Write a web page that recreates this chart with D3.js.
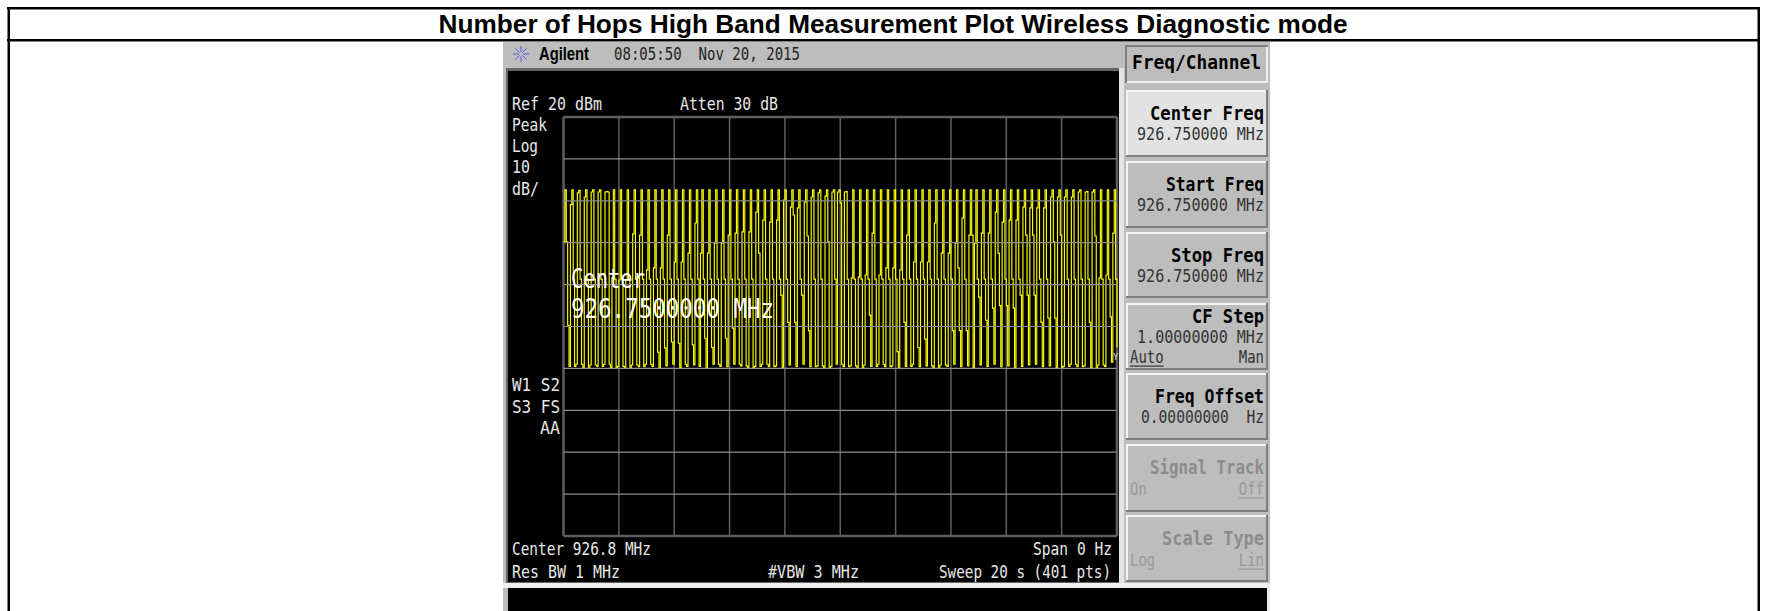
<!DOCTYPE html>
<html><head><meta charset="utf-8">
<script src="https://cdnjs.cloudflare.com/ajax/libs/d3/7.8.5/d3.min.js"></script>
<style>html,body{margin:0;padding:0;background:#fff;overflow:hidden}svg{display:block}</style>
</head><body><svg id="c" width="1766" height="611"></svg>
<script>
const title = "Number of Hops High Band Measurement Plot Wireless Diagnostic mode";
const refLevel = 20, dbPerDiv = 10, yDivs = 10, xDivs = 10, sweepPts = 400;
// Trace in dBm, one source row per hop: trough, rising edge, peak, shoulder, second trough
const trace = [
-9.8,2.6,-9.8,-29.7,
-39.5,-0.9,2.6,-18.7,-39.5,
-39.0,1.9,2.5,-18.7,-39.0,
-39.8,0.9,2.6,-18.7,-39.8,
-39.2,2.1,2.6,-18.7,-39.2,
-39.5,2.1,2.6,-18.7,-39.5,
-39.0,2.1,2.2,2.1,-39.0,
-39.8,-18.4,2.6,-18.7,-39.8,
-39.5,-18.9,2.6,-18.7,-39.5,
-40.0,-18.9,2.6,-18.7,-40.0,
-39.2,-7.9,2.6,-18.7,-39.2,
-39.6,-8.2,2.6,-18.7,-39.6,
-39.0,-16.5,2.6,-18.7,-39.0,
-39.5,-16.0,2.6,-18.7,-36.1,
-39.8,-16.0,2.6,-18.7,-35.1,
-39.4,-8.2,2.6,-18.7,-33.7,
-39.0,-14.6,2.6,-18.7,-34.0,
-39.8,-14.6,2.6,-18.7,-39.0,
-39.5,-12.5,2.6,-18.7,-34.4,
-39.2,-5.3,2.6,-18.7,
-39.5,-12.5,2.6,-18.7,-32.8,
-39.8,-12.5,2.6,-18.7,-35.0,
-39.0,-10.1,2.6,-18.7,-39.0,
-39.5,-10.1,2.6,-18.7,-32.8,
-39.6,-8.2,2.6,-18.7,-30.4,
-39.0,-7.7,2.6,-18.7,-39.0,
-39.4,-7.4,2.6,-18.7,-39.4,
-39.8,-7.4,2.6,-18.7,-39.8,
-39.5,-2.7,2.6,-12.5,-39.5,
-39.0,-4.6,2.6,-18.7,-39.0,
-39.6,-5.1,2.6,-18.7,-39.6,
-39.4,-4.6,2.6,-18.7,-22.5,
-39.8,0.2,2.6,-18.7,-29.0,
-39.2,-1.5,2.6,-3.4,-29.0,
-39.5,-1.7,2.6,-18.7,-22.5,
-39.0,-0.3,2.6,-8.4,-31.0,
-39.6,0.9,2.6,-18.7,-39.6,
-39.4,1.9,2.6,-18.7,-39.4,
-39.8,1.1,2.6,-9.8,-39.8,
-39.5,2.1,2.6,-18.7,
-39.0,2.1,2.6,-0.5,-39.0,
-39.6,2.1,2.2,-18.7,-39.6,
-39.4,-18.4,2.6,-18.7,-39.4,
-39.8,-18.2,2.6,-18.7,-39.8,
-39.2,-17.7,2.6,-18.7,-27.3,
-39.5,-7.7,2.6,-18.7,-39.5,
-39.0,-17.7,2.6,-18.7,-39.0,
-39.6,-16.0,2.6,-18.7,-39.6,
-39.4,-16.0,2.6,-18.7,-36.0,
-39.8,-16.5,2.6,-18.7,-29.0,
-39.5,-8.2,2.6,-18.7,-39.5,
-39.0,-14.6,2.6,-18.7,-35.0,
-39.6,-14.6,2.6,-18.7,-33.0,
-39.4,-14.6,2.6,-18.7,-39.4,
-39.8,-5.3,2.6,-18.7,-39.8,
-39.2,-12.5,2.6,-18.7,-39.2,
-39.5,-12.5,2.6,-18.7,-31.0,
-39.0,-10.1,2.6,-16.0,-31.0,
-39.6,-4.1,2.6,-18.7,-31.0,
-39.4,-8.2,2.6,-8.2,
-39.8,-10.1,2.6,-18.7,-23.0,
-39.2,-7.7,2.6,-18.7,-28.5,
-39.5,-7.7,2.6,-18.7,-25.6,
-39.0,-2.7,2.6,-12.5,-25.0,
-39.6,-5.1,2.6,-18.7,-25.0,
-39.4,-4.6,2.6,-18.7,-25.6,
-39.8,-4.6,2.6,-18.7,-22.5,
-39.5,-1.5,2.6,-8.2,-22.5,
-39.2,-1.7,2.6,-8.2,-22.5,
-39.0,-1.7,2.6,-18.7,-29.0,
-39.6,-1.7,2.6,-18.7,-28.0,
-39.4,0.9,2.6,-9.8,-28.0,
-39.8,0.9,2.6,-8.2,-39.8,
-39.5,0.9,2.6,-18.7,-39.5,
-39.0,0.9,2.6,-18.7,-39.0,
-39.6,2.1,2.6,-18.7,-39.6,
-39.4,2.1,2.2,-18.7,-29.0,
-39.8,2.1,2.6,-8.4,-39.8,
-39.2,-18.4,2.6,-18.7,-39.2,
-39.5,-17.7,2.6,-18.7,-27.7,
-38.5,-7.7,2.6,-18.7,-35.0];
const softKeys = [
 {t:"Center Freq", v:"926.750000 MHz", lit:true},
 {t:"Start Freq", v:"926.750000 MHz"},
 {t:"Stop Freq", v:"926.750000 MHz"},
 {t:"CF Step", v:"1.00000000 MHz", l:"Auto", r:"Man", ul:"l", up:10},
 {t:"Freq Offset", v:"0.00000000  Hz"},
 {t:"Signal Track", l:"On", r:"Off", ul:"r", dim:true},
 {t:"Scale Type", l:"Log", r:"Lin", ul:"r", dim:true}];
const keyTops = [90,161,232,303,373,444,515], keyBottoms = [157,228,298,370,440,512,582];
const keyTitleW = [114,98,93,72,109,114,102];

const svg = d3.select("#c");
const mono = "'DejaVu Sans Mono','Liberation Mono',monospace";
function rect(x,y,w,h,f){return svg.append("rect").attr("x",x).attr("y",y).attr("width",w).attr("height",h).attr("fill",f);}
function txt(x,y,s,size,fill,w,anchor,weight){
  const t = svg.append("text").attr("x",x).attr("y",y).text(s).attr("font-family",mono)
   .attr("font-size",size).attr("fill",fill).attr("text-anchor",anchor||"start").style("white-space","pre");
  if(weight) t.attr("font-weight",weight);
  if(w) t.attr("textLength",w).attr("lengthAdjust","spacingAndGlyphs");
  return t;
}
// table frame
rect(0,0,1766,611,"#fff");
rect(7,7,1752,2.5,"#000"); rect(7,39,1752,2.5,"#000");
rect(7.5,7,2.5,604,"#000"); rect(1757.5,7,2.5,604,"#000");
svg.append("text").attr("x",893).attr("y",33).attr("text-anchor","middle").text(title)
  .attr("font-family","'Liberation Sans',Arial,sans-serif").attr("font-weight","bold").attr("font-size",25).attr("fill","#000")
  .attr("textLength",909).attr("lengthAdjust","spacingAndGlyphs");
// instrument panel
rect(503,42,767,569,"#bdbdbd");
rect(506,68,615,516,"#666");
rect(508,71,611,511,"#000");
rect(1119,68,5,520,"#e4e4e4");
rect(503,583,767,5,"#efefef");
rect(508,588,759,23,"#000");
rect(1267,583,3,28,"#e8e8e8");
rect(503,588,5,23,"#bdbdbd");
// header
const star = svg.append("g").attr("transform","translate(521,54)").attr("stroke","#5a5ae8").attr("stroke-width",1);
d3.range(8).forEach(i=>{const a=i*Math.PI/4;star.append("line").attr("x1",2*Math.cos(a)).attr("y1",2*Math.sin(a)).attr("x2",8*Math.cos(a)).attr("y2",8*Math.sin(a));});
svg.append("text").attr("x",539).attr("y",60).text("Agilent").attr("font-family","'Liberation Sans',Arial,sans-serif").attr("font-weight","bold").attr("font-size",18).attr("fill","#000").attr("textLength",50).attr("lengthAdjust","spacingAndGlyphs");
txt(614,60,"08:05:50  Nov 20, 2015",18,"#222",186);
// plot
const x = d3.scaleLinear().domain([0,sweepPts]).range([563.5,1117]);
const y = d3.scaleLinear().domain([refLevel,refLevel-dbPerDiv*yDivs]).range([117,536]);
const line = d3.line().x((d,i)=>x(i)).y(d=>y(d)).curve(d3.curveStepAfter);
const gX = d3.range(0,xDivs+1).map(i=>i*sweepPts/xDivs), gY = d3.range(0,yDivs+1).map(i=>refLevel-i*dbPerDiv);
svg.append("g").selectAll("line").data(gX).join("line").attr("x1",d=>x(d)).attr("x2",d=>x(d)).attr("y1",y(refLevel)).attr("y2",y(-80)).attr("stroke","#5e5e5e").attr("stroke-width",d=>(d===0||d===sweepPts)?2.5:1.5);
svg.append("path").attr("d",line(trace)).attr("fill","none").attr("stroke","#ffff00").attr("stroke-width",1.15);
svg.append("g").selectAll("line").data(gY).join("line").attr("x1",x(0)).attr("x2",x(sweepPts)).attr("y1",d=>y(d)).attr("y2",d=>y(d)).attr("stroke",d=>(d===20||d===-80)?"#5e5e5e":"#8c8c8c").attr("stroke-width",d=>(d===20||d===-80)?2.5:1.2);
// annotations
const W="#e8e8e8", S=17;
txt(512,110,"Ref 20 dBm",S,W,90);
txt(680,110,"Atten 30 dB",S,W,98);
txt(512,131,"Peak",S,W,35);
txt(512,152,"Log",S,W,26);
txt(512,173,"10",S,W,18);
txt(512,195,"dB/",S,W,27);
txt(512,391,"W1 S2",S,W,48);
txt(512,413,"S3 FS",S,W,48);
txt(540,434,"AA",S,W,20);
txt(512,555,"Center 926.8 MHz",S,W,139);
txt(512,578,"Res BW 1 MHz",S,W,108);
txt(768,578,"#VBW 3 MHz",S,W,91);
txt(939,578,"Sweep 20 s (401 pts)",S,W,172);
txt(1033,555,"Span 0 Hz",S,W,79);
txt(571,288,"Center",27,"#fff",74);
txt(571,318,"926.7500000 MHz",27,"#fff",203);
txt(1113,360,"Y",9,"#ddd");
// soft keys
function key(x0,y0,x1,y1,fill,inset){
  rect(x0,y0,x1-x0,y1-y0,"#7e7e7e");
  rect(x0,y0,x1-x0-2,y1-y0-2,inset?"#7e7e7e":"#f4f4f4");
  if(inset) { rect(x0+2,y0+2,x1-x0-2,y1-y0-2,"#f0f0f0"); }
  rect(x0+2,y0+2,x1-x0-4,y1-y0-4,fill);
}
key(1125,45,1268,83,"#bdbdbd",true);
txt(1132,69,"Freq/Channel",20,"#000",129,"start","bold");
softKeys.forEach((k,i)=>{
  const t=keyTops[i],b=keyBottoms[i],up=k.up||0;
  key(1126,t,1268,b,k.lit?"#e2e2e2":"#bdbdbd");
  const c=k.dim?"#8c8c8c":"#000", c2=k.dim?"#9a9a9a":"#333";
  const tw=keyTitleW[i];
  txt(1264-tw,t+30-up,k.t,20,c,tw,"start","bold");
  if(k.v){ const w=k.v.startsWith("0.")?123:127; txt(1264-w,t+50-up,k.v,17.5,c2,w); }
  if(k.l){
    const by=t+(k.v?60:51);
    const lw=k.l.length*8.4, rw=k.r.length*8.4;
    txt(1130,by,k.l,17,c2,lw);
    txt(1264-rw,by,k.r,17,c2,rw);
    if(k.ul==="l") rect(1130,by+2.5,lw,1.2,c2); else rect(1264-rw,by+2.5,rw,1.2,c2);
  }
});
</script></body></html>
